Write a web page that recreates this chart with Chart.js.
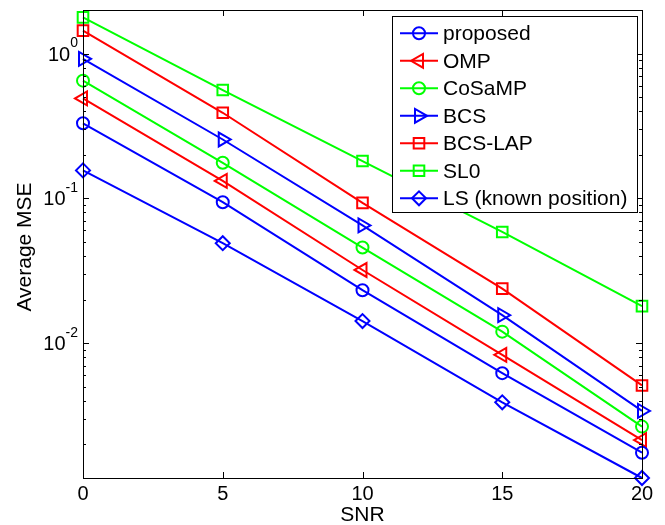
<!DOCTYPE html>
<html>
<head>
<meta charset="utf-8">
<script src="https://cdn.jsdelivr.net/npm/chart.js@4.4.0/dist/chart.umd.min.js"></script>
<style>
  body { margin: 0; background: #fff; }
  canvas { display: block; }
</style>
</head>
<body>
<canvas id="grafico" width="665" height="525"></canvas>
<script>
// valores (MSE medio x SNR)
const snr = [0, 5, 10, 15, 20];
const proposed = [0.33, 0.094, 0.0232, 0.0062, 0.00175];
const omp = [0.49, 0.132, 0.032, 0.0083, 0.00214];
const cosamp = [0.65, 0.176, 0.0457, 0.012, 0.00265];
const bcs = [0.92, 0.255, 0.065, 0.0156, 0.0034];
const bcsLap = [1.44, 0.39, 0.093, 0.0238, 0.0051];
const sl0 = [1.78, 0.56, 0.181, 0.0586, 0.018];
const lsKnown = [0.156, 0.049, 0.0142, 0.0039, 0.00117];

const nomes = ["proposed", "OMP", "CoSaMP", "BCS", "BCS-LAP", "SL0", "LS (known position)"];
const xTicks = [0, 5, 10, 15, 20];
const yDecadas = [0, -1, -2];

const yMin = 0.00117;
const yMax = 2.0;

const FONTE = "'Liberation Sans', Arial, sans-serif";

const estilos = [
  { cor: "#0000ff", ponto: "circle", rot: 0, raio: 6 },
  { cor: "#ff0000", ponto: "triangle", rot: -90, raio: 8 },
  { cor: "#00ff00", ponto: "circle", rot: 0, raio: 6 },
  { cor: "#0000ff", ponto: "triangle", rot: 90, raio: 8 },
  { cor: "#ff0000", ponto: "rect", rot: 0, raio: 7.5 },
  { cor: "#00ff00", ponto: "rect", rot: 0, raio: 7.5 },
  { cor: "#0000ff", ponto: "rectRot", rot: 0, raio: 7 },
];

const series = [proposed, omp, cosamp, bcs, bcsLap, sl0, lsKnown];

function montarDataset(valores, i) {
  let e = estilos[i];
  let pontos = [];
  for (let k = 0; k < snr.length; k++) {
    pontos.push({ x: snr[k], y: valores[k] });
  }
  return {
    label: nomes[i],
    data: pontos,
    borderColor: e.cor,
    borderWidth: 2,
    pointStyle: e.ponto,
    pointRotation: e.rot,
    pointRadius: e.raio,
    pointBorderWidth: 2,
    pointBorderColor: e.cor,
    pointBackgroundColor: "rgba(0,0,0,0)",
    fill: false,
    tension: 0,
    clip: false,
  };
}

const eixosMatlab = {
  id: "eixosMatlab",
  afterDatasetsDraw(chart) {
    const ctx = chart.ctx;
    const a = chart.chartArea;
    const sx = chart.scales.x;
    const sy = chart.scales.y;

    ctx.save();
    ctx.strokeStyle = "#000";
    ctx.lineWidth = 1;
    ctx.strokeRect(Math.round(a.left) + 0.5, Math.round(a.top) + 0.5,
      Math.round(a.right - a.left), Math.round(a.bottom - a.top));

    // ticks para dentro, como no matlab
    ctx.beginPath();
    xTicks.forEach(function (v) {
      let px = Math.round(sx.getPixelForValue(v)) + 0.5;
      ctx.moveTo(px, a.bottom);
      ctx.lineTo(px, a.bottom - 6);
      ctx.moveTo(px, a.top);
      ctx.lineTo(px, a.top + 6);
    });
    for (let d = -3; d <= 0; d++) {
      for (let m = 1; m <= 9; m++) {
        let v = m * Math.pow(10, d);
        if (v < yMin || v > yMax) continue;
        let py = Math.round(sy.getPixelForValue(v)) + 0.5;
        let len = m == 1 ? 6 : 3;
        ctx.moveTo(a.left, py);
        ctx.lineTo(a.left + len, py);
        ctx.moveTo(a.right, py);
        ctx.lineTo(a.right - len, py);
      }
    }
    ctx.stroke();

    // rotulos
    ctx.fillStyle = "#000";
    ctx.font = "20px " + FONTE;
    ctx.textAlign = "center";
    ctx.textBaseline = "middle";
    xTicks.forEach(function (v) {
      ctx.fillText(String(v), sx.getPixelForValue(v), a.bottom + 16);
    });
    ctx.font = "21px " + FONTE;
    ctx.fillText("SNR", (a.left + a.right) / 2, 515);

    yDecadas.forEach(function (ex) {
      let py = sy.getPixelForValue(Math.pow(10, ex));
      let txtEx = ex < 0 ? "-" + Math.abs(ex) : String(ex);
      ctx.font = "14px " + FONTE;
      let we = ctx.measureText(txtEx).width;
      ctx.textAlign = "left";
      let direita = a.left - 5;
      ctx.fillText(txtEx, direita - we, py - 10);
      ctx.font = "20px " + FONTE;
      ctx.textAlign = "right";
      ctx.fillText("10", direita - we, py + 1.5);
    });

    ctx.save();
    ctx.translate(25, (a.top + a.bottom) / 2 + 3);
    ctx.rotate(-Math.PI / 2);
    ctx.textAlign = "center";
    ctx.font = "21px " + FONTE;
    ctx.fillText("Average MSE", 0, 0);
    ctx.restore();

    // legenda
    let lx = 392, ly = 16, lw = 245, lh = 196;
    ctx.fillStyle = "#fff";
    ctx.fillRect(lx, ly, lw, lh);
    ctx.strokeStyle = "#000";
    ctx.lineWidth = 1;
    ctx.strokeRect(lx + 0.5, ly + 0.5, lw, lh);
    for (let i = 0; i < nomes.length; i++) {
      let e = estilos[i];
      let yy = 33.3 + i * 27.5;
      ctx.strokeStyle = e.cor;
      ctx.lineWidth = 2;
      ctx.beginPath();
      ctx.moveTo(400, yy);
      ctx.lineTo(438, yy);
      ctx.stroke();
      ctx.fillStyle = "rgba(0,0,0,0)";
      Chart.helpers.drawPoint(ctx, {
        pointStyle: e.ponto,
        rotation: e.rot,
        radius: e.raio,
        borderWidth: 2,
      }, 419, yy);
      ctx.fillStyle = "#000";
      ctx.font = "21px " + FONTE;
      ctx.textAlign = "left";
      ctx.textBaseline = "middle";
      ctx.fillText(nomes[i], 443, yy + 1);
    }
    ctx.restore();
  },
};

const config = {
  type: "line",
  data: { datasets: series.map(montarDataset) },
  options: {
    responsive: false,
    animation: false,
    devicePixelRatio: 1,
    layout: { padding: { top: 9, right: 23, left: 0, bottom: 0 } },
    scales: {
      x: {
        type: "linear",
        min: 0,
        max: 20,
        grid: { display: false },
        border: { display: false },
        ticks: { display: false },
        afterFit: function (s) { s.height = 47; },
      },
      y: {
        type: "logarithmic",
        min: yMin,
        max: yMax,
        grid: { display: false },
        border: { display: false },
        ticks: { display: false },
        afterFit: function (s) { s.width = 83; },
      },
    },
    plugins: {
      legend: { display: false },
      tooltip: { enabled: false },
    },
  },
  plugins: [eixosMatlab],
};

new Chart(document.getElementById("grafico"), config);
</script>
</body>
</html>
